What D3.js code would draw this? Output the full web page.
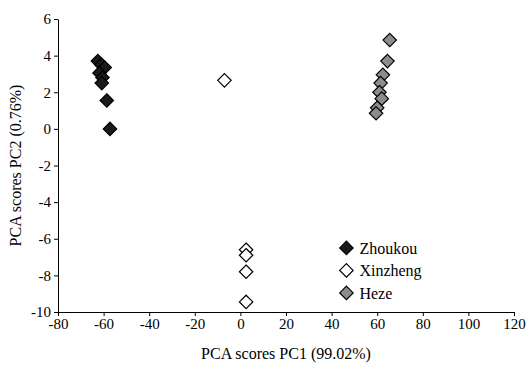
<!DOCTYPE html>
<meta charset="utf-8">
<style>
  body { margin: 0; background: #fff; }
  text { font-family: "Liberation Serif", "Times New Roman", serif; }
  .axis text { font-size: 15px; fill: #000; }
  .axis path, .axis line { stroke: #000; }
</style>
<svg width="532" height="366"></svg>
<script src="https://d3js.org/d3.v7.min.js"></script>
<script>
  // data
  var zhoukouX = [-62.5, -61, -59.5, -61.8, -60.5, -60.8, -58.6, -57.2];
  var zhoukouY = [3.7, 3.5, 3.35, 3.05, 2.8, 2.5, 1.55, 0.0];
  var xinzhengX = [-7, 2.5, 2.5, 2.5, 2.5];
  var xinzhengY = [2.65, -6.6, -6.9, -7.8, -9.45];
  var hezeX = [65.5, 64.5, 62.5, 61.5, 61, 62, 60, 59.5];
  var hezeY = [4.85, 3.7, 2.95, 2.5, 2.0, 1.65, 1.15, 0.85];
  var xTicks = [-80, -60, -40, -20, 0, 20, 40, 60, 80, 100, 120];
  var yTicks = [6, 4, 2, 0, -2, -4, -6, -8, -10];

  var series = [
    { name: "Zhoukou", xs: zhoukouX, ys: zhoukouY, fill: "#1a1a1a" },
    { name: "Xinzheng", xs: xinzhengX, ys: xinzhengY, fill: "#ffffff" },
    { name: "Heze", xs: hezeX, ys: hezeY, fill: "#8c8c8c" }
  ];

  var svg = d3.select("svg"),
    margin = { top: 19, right: 18, bottom: 54, left: 58 },
    width = +svg.attr("width") - margin.left - margin.right,
    height = +svg.attr("height") - margin.top - margin.bottom;

  var x = d3.scaleLinear().domain([-80, 120]).range([0, width]),
    y = d3.scaleLinear().domain([-10, 6]).range([height, 0]);

  var fmt = function(d) { return String(d); }; // plain hyphen, as in the original

  var g = svg.append("g")
    .attr("transform", "translate(" + margin.left + "," + margin.top + ")");

  g.append("g")
    .attr("class", "axis")
    .attr("transform", "translate(0," + height + ")")
    .call(d3.axisBottom(x).tickValues(xTicks).tickFormat(fmt).tickSize(4).tickSizeOuter(0).tickPadding(2));

  g.append("g")
    .attr("class", "axis")
    .call(d3.axisLeft(y).tickValues(yTicks).tickFormat(fmt).tickSize(4).tickSizeOuter(0).tickPadding(3));

  var diamond = d3.symbol().type(d3.symbolDiamond2).size(115);

  series.forEach(function(s) {
    var pts = s.xs.map(function(v, i) { return [v, s.ys[i]]; });
    g.selectAll(null)
      .data(pts)
      .enter().append("path")
      .attr("d", diamond)
      .attr("transform", function(d) {
        return "translate(" + x(d[0]) + "," + y(d[1]) + ")";
      })
      .attr("fill", s.fill)
      .attr("stroke", "#000")
      .attr("stroke-width", 1.2);
  });

  // legend
  var legend = g.append("g")
    .attr("transform", "translate(" + x(46.5) + "," + y(-6.5) + ")");
  series.forEach(function(s, i) {
    var row = legend.append("g").attr("transform", "translate(0," + i * 22.5 + ")");
    row.append("path")
      .attr("d", diamond)
      .attr("fill", s.fill)
      .attr("stroke", "#000")
      .attr("stroke-width", 1.2);
    row.append("text")
      .attr("x", 13)
      .attr("dy", "0.35em")
      .style("font-size", "16px")
      .text(s.name);
  });

  svg.append("text")
    .attr("x", margin.left + width / 2)
    .attr("y", 359)
    .attr("text-anchor", "middle")
    .style("font-size", "16px")
    .text("PCA scores PC1 (99.02%)");

  svg.append("text")
    .attr("transform", "translate(21," + (margin.top + height / 2) + ") rotate(-90)")
    .attr("text-anchor", "middle")
    .style("font-size", "16px")
    .text("PCA scores PC2 (0.76%)");
</script>
